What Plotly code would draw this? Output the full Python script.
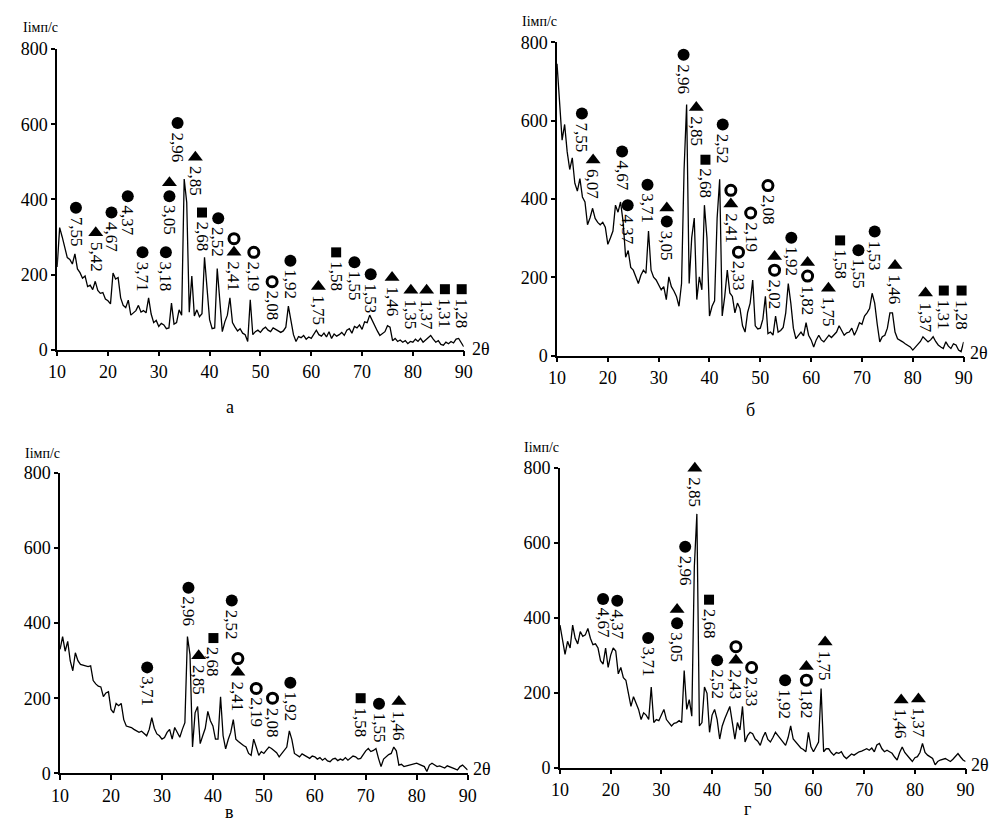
import plotly.graph_objects as go

W, H = 1007, 839

# 2-theta sampling grid (degrees), 0.5 deg steps from 10 to 90
two_theta = [10 + 0.5 * i for i in range(161)]

# Intensity (imp/s), panel а
int_a = [220, 325, 300, 270, 245, 240, 228, 255, 215, 205,
         190, 196, 168, 172, 160, 182, 158, 150, 152, 135,
         130, 122, 204, 188, 192, 138, 118, 112, 132, 92,
         98, 104, 118, 100, 104, 98, 138, 95, 72, 78,
         62, 70, 66, 56, 58, 124, 68, 72, 106, 92,
         454, 392, 100, 196, 90, 106, 88, 96, 246, 160,
         80, 56, 58, 216, 138, 48, 74, 92, 138, 72,
         60, 50, 56, 44, 40, 22, 133, 40, 48, 52,
         46, 55, 60, 52, 48, 58, 54, 50, 46, 50,
         60, 116, 76, 40, 22, 35, 32, 38, 28, 34,
         30, 42, 52, 40, 36, 44, 34, 48, 30, 42,
         36, 40, 46, 38, 52, 56, 44, 62, 58, 66,
         54, 74, 72, 92, 78, 60, 50, 38, 44, 48,
         64, 60, 24, 30, 22, 26, 20, 24, 16, 22,
         20, 28, 22, 30, 20, 26, 34, 38, 28, 20,
         24, 14, 12, 20, 16, 22, 18, 28, 30, 18,
         8]

# panel б
int_b = [745, 640, 550, 590, 520, 475, 505, 440, 420, 452,
         405, 392, 334, 352, 376, 350, 340, 334, 340, 328,
         284, 300, 318, 384, 366, 392, 342, 251, 268, 225,
         218, 201, 184, 205, 218, 210, 318, 218, 200, 193,
         180, 168, 176, 143, 201, 176, 165, 151, 126, 184,
         475, 641, 184, 301, 351, 143, 201, 168, 384, 301,
         101, 126, 140, 351, 450, 101, 151, 218, 160, 151,
         109, 134, 120, 76, 60, 110, 134, 193, 76, 68,
         70, 93, 151, 56, 60, 52, 101, 60, 64, 72,
         109, 184, 134, 70, 43, 52, 60, 50, 84, 52,
         40, 22, 40, 52, 40, 35, 44, 52, 46, 52,
         60, 76, 62, 52, 58, 60, 70, 52, 66, 84,
         80, 101, 109, 120, 159, 134, 80, 35, 48, 52,
         70, 109, 109, 60, 43, 40, 35, 30, 27, 22,
         14, 22, 27, 36, 48, 40, 35, 40, 48, 36,
         27, 22, 18, 35, 24, 18, 30, 27, 14, 10,
         35]

# panel в
int_c = [330, 364, 325, 351, 299, 273, 321, 300, 290, 288,
         286, 284, 286, 247, 238, 232, 230, 204, 214, 217,
         170, 161, 186, 180, 186, 143, 126, 124, 122, 117,
         112, 109, 112, 105, 100, 117, 148, 120, 105, 100,
         91, 95, 109, 117, 91, 122, 110, 96, 117, 135,
         364, 316, 70, 161, 178, 79, 100, 120, 165, 140,
         126, 91, 91, 204, 100, 65, 90, 109, 143, 91,
         85, 79, 74, 70, 53, 48, 91, 70, 48, 58,
         53, 62, 70, 66, 61, 55, 44, 52, 61, 70,
         113, 90, 53, 48, 44, 52, 48, 42, 40, 46,
         44, 38, 42, 35, 40, 33, 31, 38, 40, 34,
         38, 35, 42, 35, 40, 46, 44, 38, 40, 52,
         60, 66, 58, 61, 66, 40, 18, 38, 44, 50,
         53, 70, 60, 22, 24, 18, 20, 22, 22, 26,
         27, 24, 22, 18, 5, 22, 27, 22, 18, 20,
         16, 14, 20, 18, 16, 12, 9, 18, 22, 14,
         9]

# panel г
int_d = [380, 340, 302, 337, 319, 380, 345, 330, 363, 350,
         354, 371, 345, 328, 330, 319, 285, 276, 319, 267,
         300, 319, 311, 250, 267, 240, 233, 198, 163, 189,
         170, 155, 128, 146, 140, 128, 215, 120, 128, 125,
         140, 155, 128, 120, 111, 118, 120, 125, 120, 259,
         155, 181, 137, 536, 677, 111, 120, 215, 198, 94,
         140, 155, 128, 76, 111, 130, 146, 163, 120, 76,
         120, 100, 163, 68, 85, 94, 90, 76, 70, 59,
         80, 94, 75, 68, 80, 94, 85, 76, 70, 59,
         80, 111, 76, 68, 59, 52, 48, 42, 94, 55,
         42, 55, 68, 211, 42, 50, 50, 40, 33, 40,
         38, 42, 30, 24, 30, 36, 33, 38, 42, 44,
         48, 50, 46, 52, 42, 60, 64, 50, 42, 46,
         42, 38, 28, 20, 40, 55, 40, 33, 24, 16,
         26, 29, 40, 64, 40, 33, 28, 24, 7, 16,
         20, 22, 24, 20, 16, 22, 30, 37, 28, 20,
         16]

# Peak labels: 2-theta position, height of the lowest phase symbol,
# d-spacing text, phase symbols bottom->top (c=●, t=▲, s=■, o=○)
a_pos = [13.7, 17.6, 20.7, 23.9, 26.8, 31.4, 32.1, 33.7, 37.2, 38.5, 41.7, 44.8,
         48.7, 52.3, 55.9, 61.4, 64.9, 68.5, 71.7, 75.9, 79.6, 82.7, 86.3, 89.6]
a_mark = [378, 311, 365, 408, 259, 259, 408, 603, 512, 365, 350, 259,
          259, 181, 237, 168, 259, 233, 201, 192, 158, 158, 161, 161]
a_d = ["7,55", "5,42", "4,67", "4,37", "3,71", "3,18", "3,05", "2,96", "2,85", "2,68",
       "2,52", "2,41", "2,19", "2,08", "1,92", "1,75", "1,58", "1,55", "1,53", "1,46",
       "1,35", "1,37", "1,31", "1,28"]
a_sym = ["c", "t", "c", "c", "c", "c", "ct", "c", "t", "s", "c", "to",
         "o", "o", "c", "t", "s", "c", "c", "t", "t", "t", "s", "s"]

b_pos = [14.9, 17.1, 22.8, 23.9, 27.8, 31.6, 34.9, 37.4, 39.2, 42.6, 44.2, 45.7,
         48.1, 51.5, 52.8, 56.1, 59.3, 63.4, 65.7, 69.3, 72.5, 76.5, 82.5, 86.1, 89.6]
b_mark = [618, 499, 521, 384, 436, 342, 768, 633, 500, 590, 387, 264,
          364, 434, 218, 301, 203, 172, 294, 269, 317, 230, 160, 166, 166]
b_d = ["7,55", "6,07", "4,67", "4,37", "3,71", "3,05", "2,96", "2,85", "2,68", "2,52",
       "2,41", "2,33", "2,19", "2,08", "2,02", "1,92", "1,82", "1,75", "1,58", "1,55",
       "1,53", "1,46", "1,37", "1,31", "1,28"]
b_sym = ["c", "t", "c", "c", "c", "ct", "c", "t", "s", "c", "to", "o",
         "o", "o", "ot", "c", "ot", "t", "s", "c", "c", "t", "t", "s", "s"]

c_pos = [27.1, 35.2, 37.2, 40.1, 43.7, 44.9, 48.5, 51.7, 55.2, 69.0, 72.6, 76.5]
c_mark = [282, 494, 313, 360, 460, 269, 226, 200, 241, 200, 185, 191]
c_d = ["3,71", "2,96", "2,85", "2,68", "2,52", "2,41", "2,19", "2,08", "1,92",
       "1,58", "1,55", "1,46"]
c_sym = ["c", "c", "t", "s", "c", "to", "o", "o", "c", "s", "c", "t"]

d_pos = [18.5, 21.3, 27.4, 33.1, 34.7, 36.6, 39.4, 41.0, 44.7, 47.8, 54.4, 58.6,
         62.3, 77.3, 80.7]
d_mark = [450, 445, 346, 385, 589, 799, 448, 286, 286, 267, 233, 233, 335, 180, 183]
d_d = ["4,67", "4,37", "3,71", "3,05", "2,96", "2,85", "2,68", "2,52", "2,43", "2,33",
       "1,92", "1,82", "1,75", "1,46", "1,37"]
d_sym = ["c", "c", "c", "ct", "c", "t", "s", "c", "to", "o", "c", "ot", "t", "t", "t"]

x_ticks = [10, 20, 30, 40, 50, 60, 70, 80, 90]
y_ticks = [0, 200, 400, 600, 800]
y_title = "Iімп/с"
x_title = "2θ"

SERIF = "Liberation Serif"

# panel geometry in pixels: (left, right, top(800), bottom(0))
panels = [
    dict(ax="", counts=int_a, pos=a_pos, mark=a_mark, d=a_d, sym=a_sym, letter="а",
         box=(49, 463, 40, 348), ytl=(12, 18), xtl=(469, 347), let=(225, 407)),
    dict(ax="2", counts=int_b, pos=b_pos, mark=b_mark, d=b_d, sym=b_sym, letter="б",
         box=(558, 972, 33, 354), ytl=(520, 12), xtl=(976, 351), let=(755, 410)),
    dict(ax="3", counts=int_c, pos=c_pos, mark=c_mark, d=c_d, sym=c_sym, letter="в",
         box=(52, 467, 474, 782), ytl=(14, 454), xtl=(470, 778), let=(225, 822)),
    dict(ax="4", counts=int_d, pos=d_pos, mark=d_mark, d=d_d, sym=d_sym, letter="г",
         box=(561, 974, 469, 776), ytl=(522, 448), xtl=(977, 773), let=(752, 818)),
]

sym_style = {
    "c": dict(symbol="circle", size=12, color="black", line=dict(width=0)),
    "t": dict(symbol="triangle-up", size=13, color="black", line=dict(width=0)),
    "s": dict(symbol="square", size=10, color="black", line=dict(width=0)),
    "o": dict(symbol="circle-open", size=10, color="black", line=dict(width=3, color="black")),
}
STACK_PX = 14

fig = go.Figure()
annotations = []
layout_axes = {}

def px2paper(x, y):
    return x / W, 1 - y / H

for p in panels:
    ax = p["ax"]
    xref, yref = "x" + ax, "y" + ax
    l, r, t, b = p["box"]
    ppu = (b - t) / 800.0
    layout_axes["xaxis" + ax] = dict(
        domain=[l / W, r / W], range=[10, 90], anchor=yref,
        showline=True, linecolor="black", linewidth=1.5, mirror=False,
        ticks="outside", ticklen=5, tickwidth=1.5, tickcolor="black",
        tickvals=x_ticks, showgrid=False, zeroline=False,
        tickfont=dict(family=SERIF, size=18, color="black"), fixedrange=True)
    layout_axes["yaxis" + ax] = dict(
        domain=[1 - b / H, 1 - t / H], range=[0, 800], anchor=xref,
        showline=True, linecolor="black", linewidth=1.5,
        ticks="outside", ticklen=4, tickwidth=1.5, tickcolor="black",
        tickvals=y_ticks, showgrid=False, zeroline=False,
        tickfont=dict(family=SERIF, size=18, color="black"), fixedrange=True)

    fig.add_trace(go.Scatter(x=two_theta, y=p["counts"], mode="lines",
                             line=dict(color="black", width=1.3),
                             xaxis=xref, yaxis=yref, showlegend=False,
                             hoverinfo="skip"))

    pts = {k: ([], []) for k in sym_style}
    for xp, ym, txt, ss in zip(p["pos"], p["mark"], p["d"], p["sym"]):
        for k, s in enumerate(ss):
            pts[s][0].append(xp)
            pts[s][1].append(ym + k * STACK_PX / ppu)
        annotations.append(dict(
            x=xp, y=ym, xref=xref, yref=yref, text=txt, textangle=90,
            showarrow=False, xanchor="center", yanchor="top", yshift=-7,
            font=dict(family=SERIF, size=17, color="black")))
    for s, (xs, ys) in pts.items():
        if xs:
            st = sym_style[s]
            fig.add_trace(go.Scatter(
                x=xs, y=ys, mode="markers", xaxis=xref, yaxis=yref,
                marker=dict(symbol=st["symbol"], size=st["size"], color=st["color"],
                            line=st["line"]),
                cliponaxis=False, showlegend=False, hoverinfo="skip"))

    tx, ty = px2paper(*p["ytl"])
    annotations.append(dict(x=tx, y=ty, xref="paper", yref="paper", text=y_title,
                            showarrow=False, xanchor="left", yanchor="middle",
                            font=dict(family=SERIF, size=14, color="black")))
    tx, ty = px2paper(*p["xtl"])
    annotations.append(dict(x=tx, y=ty, xref="paper", yref="paper", text=x_title,
                            showarrow=False, xanchor="left", yanchor="middle",
                            font=dict(family=SERIF, size=18, color="black")))
    tx, ty = px2paper(*p["let"])
    annotations.append(dict(x=tx, y=ty, xref="paper", yref="paper", text=p["letter"],
                            showarrow=False, xanchor="center", yanchor="middle",
                            font=dict(family=SERIF, size=18, color="black")))

fig.update_layout(
    width=W, height=H, margin=dict(l=0, r=0, t=0, b=0),
    paper_bgcolor="white", plot_bgcolor="white",
    annotations=annotations, showlegend=False, **layout_axes)

fig.write_html("out.html", config={"displayModeBar": False},
               post_script="document.body.style.margin='0';document.body.style.overflow='hidden';")
